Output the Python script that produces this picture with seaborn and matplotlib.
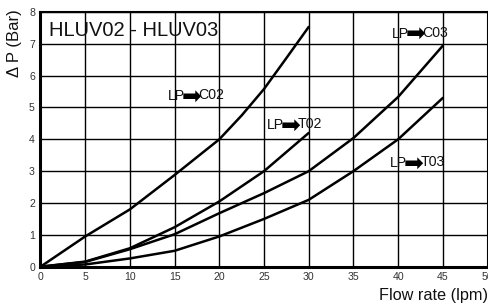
import matplotlib
matplotlib.use("Agg")
import matplotlib.pyplot as plt
import seaborn as sns
import pandas as pd

# flow rate (lpm) and pressure drop (bar)
flow_c02 = [0, 5, 10, 15, 20, 22.5, 25, 27.5, 30]
flow_02 = [0, 5, 10, 15, 20, 25, 30]
flow_03 = [0, 5, 10, 15, 20, 25, 30, 35, 40, 45]

lp_c02 = [0, 0.95, 1.8, 2.88, 4.0, 4.75, 5.58, 6.55, 7.53]
lp_t02 = [0, 0.16, 0.58, 1.24, 2.05, 3.0, 4.2]
lp_c03 = [0, 0.15, 0.55, 1.02, 1.68, 2.31, 3.0, 4.04, 5.33, 6.94]
lp_t03 = [0, 0.07, 0.26, 0.5, 0.95, 1.5, 2.1, 3.0, 4.0, 5.3]

x_ticks = [0, 5, 10, 15, 20, 25, 30, 35, 40, 45, 50]
y_ticks = [0, 1, 2, 3, 4, 5, 6, 7, 8]

title = "HLUV02 - HLUV03"
# (from, to, x, y) of each curve label
labels = [
    ("LP", "C02", 14.2, 5.37),
    ("LP", "T02", 25.3, 4.45),
    ("LP", "C03", 39.3, 7.32),
    ("LP", "T03", 39.1, 3.26),
]

sns.set_style("white")
plt.rcParams['font.family'] = ['Liberation Sans', 'DejaVu Sans']

fig = plt.figure(figsize=(4.89, 3.06), dpi=100)
ax = fig.add_axes([0.0828, 0.1284, 0.9142, 0.8326])

for fx, fy in [(flow_c02, lp_c02), (flow_02, lp_t02),
               (flow_03, lp_c03), (flow_03, lp_t03)]:
    df = pd.DataFrame({"flow": fx, "dp": fy})
    sns.lineplot(data=df, x="flow", y="dp", color="black",
                 linewidth=1.8, ax=ax, zorder=3)

ax.set_xlim(0, 50)
ax.set_ylim(0, 8)
ax.set_xticks(x_ticks)
ax.set_yticks(y_ticks)
ax.grid(True, color="black", linewidth=1.0)
ax.tick_params(axis="both", labelsize=7.6, labelcolor="#333333",
               length=2, width=1, color="black", pad=2)

for side in ["left", "bottom"]:
    ax.spines[side].set_linewidth(2.2)
for side in ["top", "right"]:
    ax.spines[side].set_linewidth(1.5)
for s in ax.spines.values():
    s.set_color("black")

ax.set_xlabel("")
ax.set_ylabel("")
fig.text(0.997, 0.035, "Flow rate (lpm)", ha="right", va="center",
         fontsize=11.7, color="#111111")
fig.text(0.03, 0.97, "\u0394 P (Bar)", rotation=90, ha="center", va="top",
         fontsize=12, color="#111111")

ax.text(0.95, 7.43, title, fontsize=14.5, va="center", ha="left",
        color="#111111", zorder=4)
for src, dst, lx, ly in labels:
    t1 = ax.text(lx, ly, src, fontsize=10.2, va="center", ha="left",
                 color="#111111", zorder=4)
    t2 = ax.annotate("\u27a1", xy=(1, 0.45), xycoords=t1,
                     xytext=(-2.2, 0), textcoords="offset points",
                     fontsize=17, family="DejaVu Sans", va="center",
                     ha="left", color="black", zorder=4)
    ax.annotate(dst, xy=(1, 0.55), xycoords=t2,
                xytext=(-2.4, 0), textcoords="offset points",
                fontsize=10.2, va="center", ha="left",
                color="#111111", zorder=4)

fig.savefig("out.png", dpi=100)
